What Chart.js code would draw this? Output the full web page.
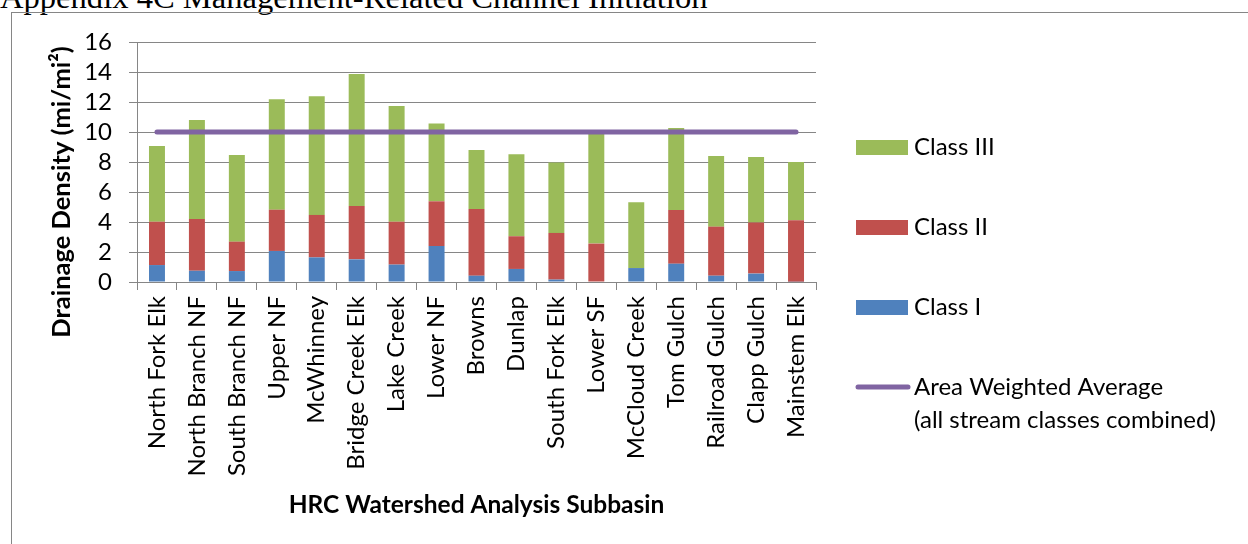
<!DOCTYPE html>
<html>
<head>
<meta charset="utf-8">
<title>Drainage Density by Subbasin</title>
<script src="https://cdn.jsdelivr.net/npm/chart.js@4.4.1/dist/chart.umd.min.js"></script>
<style>
  html, body { margin: 0; padding: 0; background: #fff; }
  body { width: 1248px; height: 544px; position: relative; overflow: hidden; }
  #title {
    position: absolute; left: 0; top: -19px;
    font-family: "Liberation Serif", "Times New Roman", serif;
    font-size: 32.6px; line-height: 32px; white-space: nowrap; color: #000;
  }
  #frame {
    position: absolute; left: 11px; top: 12px; right: -2px; bottom: -2px;
    border-left: 1px solid #868686; border-top: 1px solid #868686;
  }
  #chart { position: absolute; left: 0; top: 0; }
</style>
</head>
<body>
<div id="title">Appendix 4C Management-Related Channel Initiation</div>
<div id="frame"></div>
<canvas id="chart" width="1248" height="544"></canvas>
<script>
// subbasins along the x axis
var subbasins = ["North Fork Elk", "North Branch NF", "South Branch NF", "Upper NF", "McWhinney",
    "Bridge Creek Elk", "Lake Creek", "Lower NF", "Browns", "Dunlap", "South Fork Elk", "Lower SF",
    "McCloud Creek", "Tom Gulch", "Railroad Gulch", "Clapp Gulch", "Mainstem Elk"];

// drainage density per stream class (mi/mi2)
var classI   = [1.13, 0.75, 0.73, 2.07, 1.64, 1.51, 1.16, 2.40, 0.42, 0.87, 0.16, 0.00, 0.93, 1.22, 0.42, 0.56, 0.02];
var classII  = [2.89, 3.45, 1.96, 2.75, 2.83, 3.56, 2.86, 2.98, 4.45, 2.18, 3.11, 2.56, 0.00, 3.58, 3.27, 3.40, 4.09];
var classIII = [5.05, 6.60, 5.78, 7.36, 7.91, 8.80, 7.71, 5.18, 3.93, 5.46, 4.69, 7.30, 4.38, 5.47, 4.71, 4.37, 3.89];
var areaAvg  = [10, 10, 10, 10, 10, 10, 10, 10, 10, 10, 10, 10, 10, 10, 10, 10, 10];

var yTicks = [0, 2, 4, 6, 8, 10, 12, 14, 16];

var xTitle = "HRC Watershed Analysis Subbasin";
var yTitle = "Drainage Density (mi/mi\u00b2)";

var legendLines = {
    "Class III": ["Class III"],
    "Class II": ["Class II"],
    "Class I": ["Class I"],
    "Area Weighted Average": ["Area Weighted Average", "(all stream classes combined)"]
};
var legendOrder = ["Class III", "Class II", "Class I", "Area Weighted Average"];

var fontFamily = "Lato, 'Open Sans', sans-serif";
var labelFont = { family: fontFamily, size: 24 };
var gridGray = "#868686";

// y axis title, drawn by hand so it can sit a bit lower like the original
var yAxisTitle = {
    id: "yAxisTitle",
    afterDraw: function (chart) {
        var ctx = chart.ctx;
        var yScale = chart.scales.y;
        ctx.save();
        ctx.translate(yScale.left + 26, chart.chartArea.bottom - 90);
        ctx.rotate(-Math.PI / 2);
        ctx.font = "bold 25.5px " + fontFamily;
        ctx.fillStyle = "#000";
        ctx.textAlign = "center";
        ctx.textBaseline = "middle";
        ctx.fillText(yTitle, 0, 0);
        ctx.restore();
    }
};

// legend drawn at the right of the plot, spaced like the original
var sideLegend = {
    id: "sideLegend",
    afterDraw: function (chart) {
        var ctx = chart.ctx;
        var area = chart.chartArea;
        var x0 = area.right + 40;
        var y0 = area.top + 105;
        ctx.save();
        ctx.font = labelFont.size + "px " + labelFont.family;
        ctx.textBaseline = "middle";
        ctx.textAlign = "left";
        legendOrder.forEach(function (name, i) {
            var ds = chart.data.datasets.find(function (d) { return d.label === name; });
            var y = y0 + i * 80;
            if (ds.type === "line") {
                ctx.strokeStyle = ds.borderColor;
                ctx.lineWidth = 5;
                ctx.lineCap = "round";
                ctx.beginPath();
                ctx.moveTo(x0 + 2, y);
                ctx.lineTo(x0 + 52, y);
                ctx.stroke();
            } else {
                ctx.fillStyle = ds.backgroundColor;
                ctx.fillRect(x0, y - 7, 52, 15);
            }
            ctx.fillStyle = "#000";
            legendLines[name].forEach(function (line, j) {
                ctx.fillText(line, x0 + 58, y + j * 33);
            });
        });
        ctx.restore();
    }
};

var ctx = document.getElementById("chart").getContext("2d");
var densityChart = new Chart(ctx, {
    type: "bar",
    data: {
        labels: subbasins,
        datasets: [{
            label: "Area Weighted Average",
            type: "line",
            data: areaAvg,
            stack: "avg",
            borderColor: "#8064A2",
            borderWidth: 5,
            borderCapStyle: "round",
            pointRadius: 0,
            fill: false,
            order: 0
        }, {
            label: "Class I",
            data: classI,
            backgroundColor: "#4F81BD",
            stack: "classes",
            order: 1
        }, {
            label: "Class II",
            data: classII,
            backgroundColor: "#C0504D",
            stack: "classes",
            order: 1
        }, {
            label: "Class III",
            data: classIII,
            backgroundColor: "#9BBB59",
            stack: "classes",
            order: 1
        }]
    },
    options: {
        responsive: false,
        maintainAspectRatio: false,
        animation: false,
        layout: {
            padding: { left: 36, top: 42, right: 432, bottom: 22 }
        },
        datasets: {
            bar: { categoryPercentage: 1.0, barPercentage: 0.4 }
        },
        plugins: {
            legend: { display: false },
            tooltip: { enabled: false }
        },
        scales: {
            x: {
                stacked: true,
                afterFit: function (scale) { scale.height = 240; },
                grid: {
                    drawOnChartArea: false,
                    drawTicks: true,
                    tickLength: 8,
                    color: gridGray
                },
                border: { color: gridGray, width: 1 },
                ticks: {
                    minRotation: 90,
                    maxRotation: 90,
                    autoSkip: false,
                    padding: 6,
                    color: "#000",
                    font: labelFont
                },
                title: {
                    display: true,
                    text: xTitle,
                    color: "#000",
                    font: { family: fontFamily, size: 24.5, weight: "bold", lineHeight: 1.2 },
                    padding: { top: 0, bottom: 2 }
                }
            },
            y: {
                stacked: true,
                min: 0,
                max: 16,
                afterFit: function (scale) { scale.width = 101; },
                afterBuildTicks: function (scale) {
                    scale.ticks = yTicks.map(function (v) { return { value: v }; });
                },
                grid: {
                    color: gridGray,
                    tickLength: 8
                },
                border: { color: gridGray, width: 1 },
                ticks: {
                    autoSkip: false,
                    padding: 17,
                    color: "#000",
                    font: labelFont
                }
            }
        }
    },
    plugins: [yAxisTitle, sideLegend]
});
</script>
</body>
</html>
